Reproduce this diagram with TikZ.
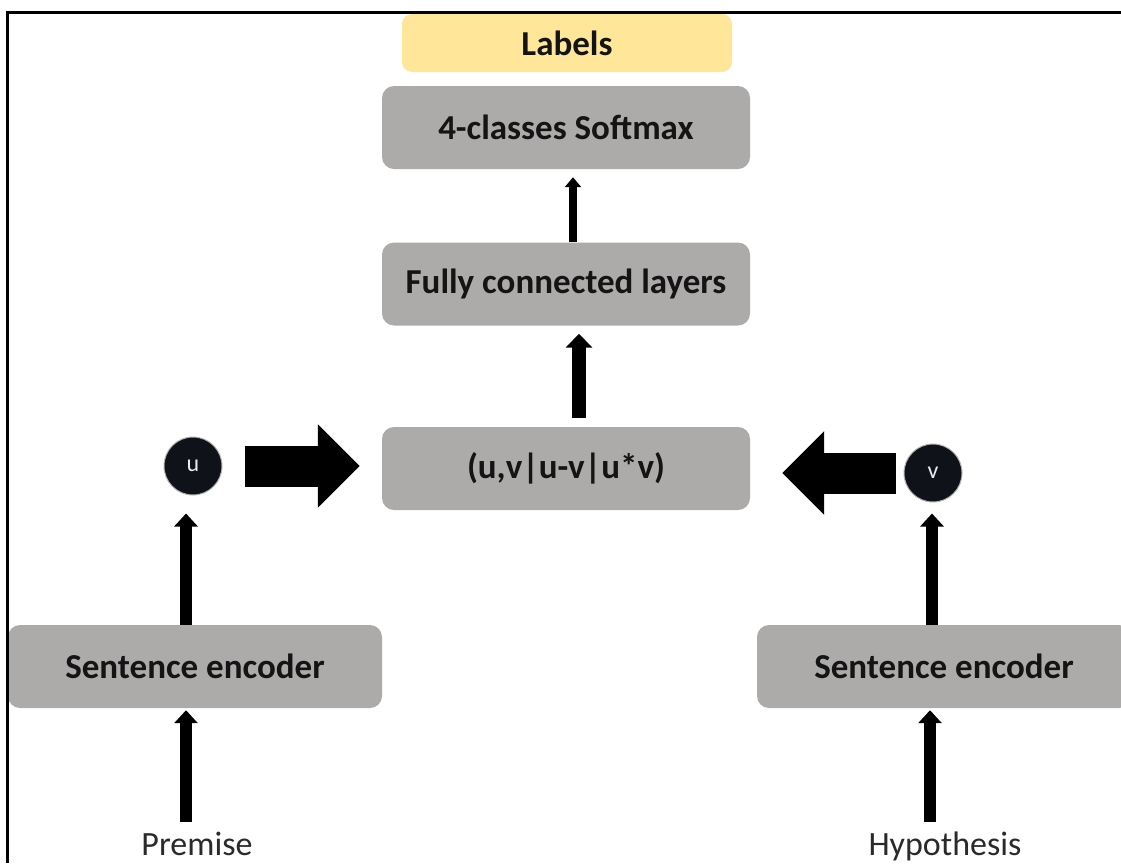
\documentclass[tikz,border=0pt]{standalone}
\usepackage{fontspec}
\setmainfont{Carlito}
\usetikzlibrary{arrows.meta}
\definecolor{boxgray}{HTML}{ADAAAA}
\definecolor{labelyellow}{HTML}{FFE699}
\definecolor{txt}{HTML}{141414}
\definecolor{plain}{HTML}{2A2A2A}
\definecolor{dot}{HTML}{10121A}
\begin{document}
\begin{tikzpicture}[x=1pt,y=-1pt,
  box/.style={rectangle, rounded corners=12pt, fill=boxgray, minimum width=368pt,
    minimum height=83pt, inner sep=0pt, text=txt,
    font=\fontsize{35}{40}\selectfont\bfseries},
  lbl/.style={rectangle, rounded corners=10pt, fill=labelyellow, minimum width=330pt,
    minimum height=58pt, inner sep=0pt, text=txt,
    font=\fontsize{35}{40}\selectfont\bfseries},
  dotnode/.style={circle, fill=dot, draw=gray!60, line width=1pt, minimum size=58pt,
    inner sep=0pt, text=white!92!black, font=\fontsize{24}{28}\selectfont},
  caption/.style={inner sep=0pt, anchor=base, text=plain,
    font=\fontsize{34}{40}\selectfont},
  arrowA/.style={line width=8pt, -{Triangle[width=16pt,length=10pt]}},
  arrowB/.style={line width=12pt, -{Triangle[width=23pt,length=13pt]}},
  arrowC/.style={line width=14pt, -{Triangle[width=26pt,length=14pt]}},
  bigarrow/.style={line width=41pt, -{Triangle[width=81pt,length=42pt]}},
]
\useasboundingbox (0,0) rectangle (1121,863);
\clip (0,0) rectangle (1121,863);

% nodes
\node[lbl] (labels) at (567,43) {Labels};
\node[box] (sm) at (566,127.5) {4-classes Softmax};
\node[box] (fc) at (566,284) {Fully connected layers};
\node[box] (cat) at (566,468.5) {(u,v|u-v|u*v)};
\node[box, minimum width=374pt] (enc1) at (195,666.5) {Sentence encoder};
\node[box, minimum width=374pt] (enc2) at (944,666.5) {Sentence encoder};
\node[dotnode] (u) at (193,466) {u};
\node[dotnode] (v) at (933,473) {v};
\node[caption] (premise) at (197,855) {Premise};
\node[caption] (hyp) at (945,855) {Hypothesis};

\coordinate (pa) at (186,822);
\coordinate (ha) at (930,822);

% connectors
\draw[arrowA, shorten >=8pt] ([xshift=7pt]fc.north) -- ([xshift=7pt]sm.south);
\draw[arrowC, shorten <=9pt, shorten >=8pt] ([xshift=13pt]cat.north) -- ([xshift=13pt]fc.south);
\draw[arrowB, shorten >=18pt] ([xshift=-9pt]enc1.north) -- ([xshift=-7pt]u.south);
\draw[arrowB, shorten >=11pt] ([xshift=-12pt]enc2.north) -- ([xshift=-1pt]v.south);
\draw[arrowB, shorten >=2pt] (pa) -- (pa |- enc1.south);
\draw[arrowB, shorten >=2pt] (ha) -- (ha |- enc2.south);
\draw[bigarrow, shorten <=22pt, shorten >=22pt] (u.east) -- (u.east -| cat.west);
\draw[bigarrow, shorten <=8pt, shorten >=32pt] (v.west) -- (v.west -| cat.east);

% frame
\draw[line width=3pt] (7,863) -- (7,12) -- (1121,12);
\end{tikzpicture}
\end{document}
